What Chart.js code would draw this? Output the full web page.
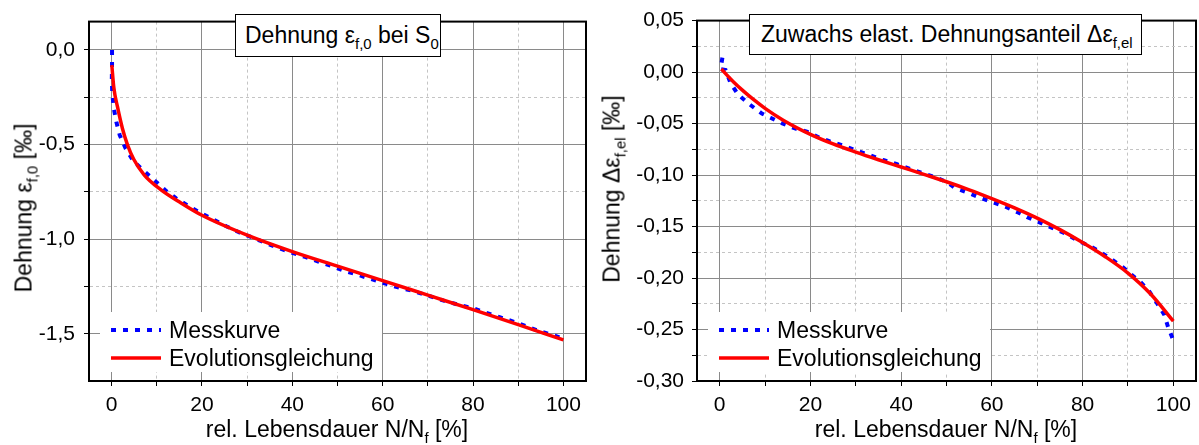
<!DOCTYPE html>
<html lang="de">
<head>
<meta charset="utf-8">
<title>Dehnung / Zuwachs elast. Dehnungsanteil</title>
<script src="https://cdn.jsdelivr.net/npm/chart.js@4.4.1/dist/chart.umd.min.js"></script>
<style>
  body { margin: 0; background: #fff; font-family: "Liberation Sans", Arial, sans-serif; color: #000; }
  #page { position: relative; width: 1199px; height: 445px; overflow: hidden; }
  canvas { position: absolute; top: 0; }
  .box {
    position: absolute; top: 14px; box-sizing: border-box;
    border: 1px solid #000; background: #fff;
    font-size: 23px; line-height: 23px; white-space: nowrap;
  }
  .xtitle {
    position: absolute; top: 418px; font-size: 23px; line-height: 23px;
    white-space: nowrap; transform: translateX(-50%);
  }
  .ytitle {
    position: absolute; font-size: 23px; line-height: 23px; white-space: nowrap;
    transform: translate(-50%, -50%) rotate(-90deg);
  }
  sub { font-size: 0.65em; vertical-align: baseline; position: relative; top: 0.38em; line-height: 0; }
</style>
</head>
<body>
<div id="page">
  <canvas id="leftChart" width="600" height="445" style="left:0"></canvas>
  <canvas id="rightChart" width="599" height="445" style="left:600px"></canvas>

  <div class="box" style="left:235px; width:206px; height:43px; padding:9px 0 0 9px;">Dehnung ε<sub>f,0</sub> bei S<sub>0</sub></div>
  <div class="box" style="left:749px; width:393px; height:41px; padding:8px 0 0 11px;">Zuwachs elast. Dehnungsanteil Δε<sub>f,el</sub></div>

  <div class="xtitle" style="left:337px">rel. Lebensdauer N/N<sub>f</sub> [%]</div>
  <div class="xtitle" style="left:946px">rel. Lebensdauer N/N<sub>f</sub> [%]</div>

  <div class="ytitle" style="left:24px; top:208px">Dehnung ε<sub>f,0</sub> [‰]</div>
  <div class="ytitle" style="left:612px; top:189px">Dehnung Δε<sub>f,el</sub> [‰]</div>
</div>

<script>
// x axis (both charts)
const xTicks = [0, 10, 20, 30, 40, 50, 60, 70, 80, 90, 100];

// left chart: Dehnung eps_f,0
const leftYTicks = [-1.5, -1.25, -1.0, -0.75, -0.5, -0.25, 0];
const leftMessX = [0.1, 0.1, 0.05, 0.15, 0.5, 1.1, 1.8, 3.1, 4.9, 7.2, 9.5, 11.9, 14.3, 16.9, 19.5,
  22.5, 25.4, 28.4, 31.1, 33.8, 36.8, 40, 42.8, 45.9, 48.8, 51.6, 54.7, 57.7, 60.8, 63.8, 66.9,
  70.2, 73.5, 76.8, 79.8, 82.6, 85.7, 88.6, 91.6, 94.8, 97.5, 99.9];
const leftMessY = [0, -0.08, -0.15, -0.23, -0.31, -0.385, -0.45, -0.52, -0.59, -0.64, -0.69, -0.742,
  -0.785, -0.823, -0.859, -0.897, -0.932, -0.966, -0.991, -1.017, -1.046, -1.072, -1.094, -1.12,
  -1.143, -1.168, -1.19, -1.213, -1.237, -1.258, -1.275, -1.3, -1.325, -1.347, -1.364, -1.387,
  -1.411, -1.433, -1.459, -1.488, -1.505, -1.527];
const leftEvoX = [0.05, 0.5, 1.3, 2.4, 3.5, 4.9, 7.2, 10.8, 15.3, 20, 30, 40, 50, 60, 70, 80, 90, 100];
const leftEvoY = [-0.08, -0.2, -0.3, -0.415, -0.5, -0.578, -0.66, -0.737, -0.808, -0.874, -0.979,
  -1.066, -1.143, -1.219, -1.296, -1.373, -1.452, -1.533];

// right chart: Zuwachs elast. Dehnungsanteil
const rightYTicks = [-0.3, -0.275, -0.25, -0.225, -0.2, -0.175, -0.15, -0.125, -0.1, -0.075,
  -0.05, -0.025, 0, 0.025, 0.05];
const rightMessX = [0.6, 0.2, 1.3, 2.4, 4.1, 6.7, 9.3, 11.2, 13.8, 16.9, 19.2, 21.9, 24.3, 27.3,
  30.1, 33.1, 36, 39.1, 42.1, 44.9, 47.6, 50.2, 51.8, 54.8, 57.5, 59.9, 63, 65.9, 67.8, 70, 73.3,
  76.4, 79.1, 81.3, 83.9, 86.5, 88.9, 90.5, 92.6, 94.5, 96.4, 98, 98.9, 99.9];
const rightMessY = [0.014, 0.003, 0.002, -0.0108, -0.022, -0.0317, -0.0403, -0.0444, -0.0498,
  -0.0552, -0.0578, -0.0635, -0.0673, -0.0714, -0.0762, -0.0806, -0.0854, -0.0895, -0.0943,
  -0.0984, -0.1022, -0.107, -0.1124, -0.1174, -0.1222, -0.126, -0.1308, -0.1365, -0.141, -0.145,
  -0.1514, -0.1571, -0.1641, -0.1683, -0.1746, -0.1822, -0.1895, -0.1959, -0.2032, -0.2117,
  -0.2244, -0.2356, -0.2483, -0.2594];
const rightEvoX = [0.37, 1.5, 3, 5, 7.5, 10, 14, 20, 25, 30, 35, 40, 45, 50, 55, 60, 65, 70, 75,
  80, 85, 90, 95, 100];
const rightEvoY = [0.003, -0.0025, -0.0093, -0.0175, -0.0268, -0.0352, -0.0467, -0.0605, -0.0698,
  -0.0777, -0.0851, -0.0922, -0.0993, -0.1065, -0.1143, -0.1228, -0.1318, -0.1418, -0.153,
  -0.1655, -0.1793, -0.1952, -0.2155, -0.2419];

const FONT = '"Liberation Sans", Arial, sans-serif';
Chart.defaults.font.family = FONT;
Chart.defaults.font.size = 21;
Chart.defaults.color = "#000";

function isMajor(v, step) {
  return Math.abs(v / step - Math.round(v / step)) < 1e-6;
}

function toPoints(xs, ys) {
  return xs.map((x, i) => ({ x: x, y: ys[i] }));
}

// box round the plot area
const frame = {
  id: "frame",
  afterDraw(chart) {
    const { ctx, chartArea: a } = chart;
    ctx.save();
    ctx.strokeStyle = "#000";
    ctx.lineWidth = 2;
    ctx.strokeRect(a.left, a.top, a.right - a.left, a.bottom - a.top);
    ctx.restore();
  },
};

// legend in the lower left corner of the plot
const insideLegend = {
  id: "insideLegend",
  afterDraw(chart) {
    const { ctx, chartArea: a } = chart;
    ctx.save();
    ctx.fillStyle = "#fff";
    ctx.fillRect(a.left + 11, a.bottom - 69, 282, 60);
    ctx.font = "23px " + FONT;
    ctx.textBaseline = "alphabetic";
    chart.data.datasets.forEach((ds, i) => {
      const ly = a.bottom - 51 + i * 28;
      ctx.strokeStyle = ds.borderColor;
      ctx.lineWidth = ds.borderWidth;
      ctx.setLineDash(ds.borderDash || []);
      ctx.beginPath();
      ctx.moveTo(a.left + 22, ly);
      ctx.lineTo(a.left + 72, ly);
      ctx.stroke();
      ctx.setLineDash([]);
      ctx.fillStyle = "#000";
      ctx.fillText(ds.label, a.left + 80, ly + 8);
    });
    ctx.restore();
  },
};

function gridColor(step) {
  return (c) => (c.tick && isMajor(c.tick.value, step) ? "#8a8a8a" : "#c4c4c4");
}
function gridDash(step) {
  return (c) => (c.tick && !isMajor(c.tick.value, step) ? [3, 3] : []);
}

function makeChart(id, cfg) {
  const ctx = document.getElementById(id).getContext("2d");
  return new Chart(ctx, {
    type: "line",
    data: {
      datasets: [
        {
          label: "Messkurve",
          data: toPoints(cfg.messX, cfg.messY),
          borderColor: "#0000ff",
          borderWidth: 4,
          borderDash: [5, 7],
          borderCapStyle: "butt",
          pointRadius: 0,
          tension: 0,
          order: 1,
        },
        {
          label: "Evolutionsgleichung",
          data: toPoints(cfg.evoX, cfg.evoY),
          borderColor: "#ff0000",
          borderWidth: 3.5,
          pointRadius: 0,
          cubicInterpolationMode: "monotone",
          order: 0,
        },
      ],
    },
    options: {
      responsive: false,
      animation: false,
      devicePixelRatio: 1,
      layout: { padding: { top: 14, right: cfg.padRight, bottom: 0, left: 0 } },
      plugins: { legend: { display: false }, tooltip: { enabled: false } },
      scales: {
        x: {
          type: "linear",
          min: -5,
          max: 105,
          afterBuildTicks: (s) => { s.ticks = xTicks.map((v) => ({ value: v })); },
          afterFit: (s) => { s.height = 64; },
          ticks: {
            autoSkip: false,
            maxRotation: 0,
            padding: 7,
            callback: (v) => (isMajor(v, 20) ? String(v) : ""),
          },
          grid: { color: gridColor(20), lineWidth: 1, tickLength: 5, tickColor: "#000" },
          border: { color: "#000", width: 2, dash: gridDash(20) },
        },
        y: {
          type: "linear",
          min: cfg.yMin,
          max: cfg.yMax,
          afterBuildTicks: (s) => { s.ticks = cfg.yTicks.map((v) => ({ value: v })); },
          afterFit: (s) => { s.width = cfg.yWidth; },
          ticks: {
            autoSkip: false,
            padding: cfg.yPad,
            callback: (v) => (isMajor(v, cfg.yMajor) ? v.toFixed(cfg.digits).replace(".", ",") : ""),
          },
          grid: { color: gridColor(cfg.yMajor), lineWidth: 1, tickLength: 5, tickColor: "#000" },
          border: { color: "#000", width: 2, dash: gridDash(cfg.yMajor) },
        },
      },
    },
    plugins: [frame, insideLegend],
  });
}

makeChart("leftChart", {
  messX: leftMessX, messY: leftMessY, evoX: leftEvoX, evoY: leftEvoY,
  yMin: -1.75, yMax: 0.15, yTicks: leftYTicks, yMajor: 0.5, digits: 1,
  yWidth: 89, yPad: 9, padRight: 14,
});

makeChart("rightChart", {
  messX: rightMessX, messY: rightMessY, evoX: rightEvoX, evoY: rightEvoY,
  yMin: -0.3, yMax: 0.05, yTicks: rightYTicks, yMajor: 0.05, digits: 2,
  yWidth: 97, yPad: 8, padRight: 3,
});
</script>
</body>
</html>
